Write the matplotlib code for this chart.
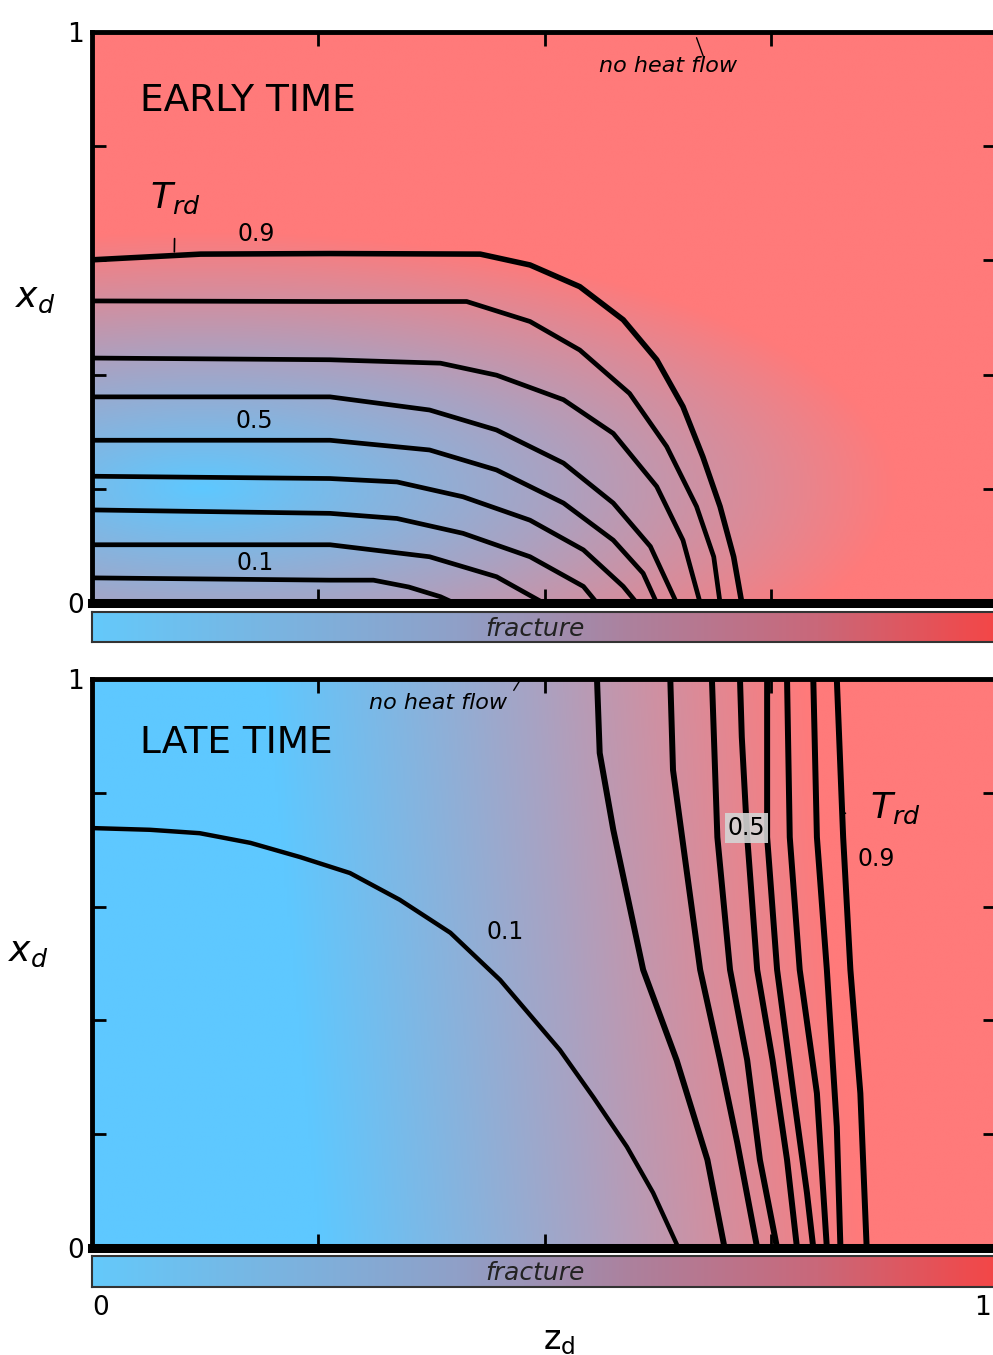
import numpy as np
import matplotlib
matplotlib.use("Agg")
import matplotlib.pyplot as plt
from matplotlib.colors import LinearSegmentedColormap

# contour levels (T_rd) and traced points (z_d, x_d)
levels = [0.1, 0.2, 0.3, 0.4, 0.5, 0.6, 0.7, 0.8, 0.9]

early_z = [
    [0.0, 0.263, 0.311, 0.350, 0.385, 0.400],
    [0.0, 0.263, 0.373, 0.447, 0.499],
    [0.0, 0.263, 0.337, 0.410, 0.484, 0.543, 0.558],
    [0.0, 0.263, 0.337, 0.410, 0.484, 0.543, 0.587, 0.602],
    [0.0, 0.263, 0.373, 0.447, 0.521, 0.576, 0.609, 0.624],
    [0.0, 0.263, 0.373, 0.447, 0.521, 0.576, 0.617, 0.646],
    [0.0, 0.263, 0.385, 0.447, 0.521, 0.576, 0.624, 0.653, 0.672],
    [0.0, 0.263, 0.414, 0.484, 0.539, 0.594, 0.635, 0.668, 0.687, 0.694],
    [0.0, 0.120, 0.263, 0.429, 0.484, 0.539, 0.587, 0.624, 0.653, 0.675, 0.694, 0.709, 0.718],
]
early_x = [
    [0.044, 0.040, 0.040, 0.028, 0.011, 0.0],
    [0.102, 0.102, 0.081, 0.046, 0.0],
    [0.163, 0.157, 0.148, 0.122, 0.081, 0.029, 0.0],
    [0.222, 0.218, 0.212, 0.186, 0.145, 0.093, 0.029, 0.0],
    [0.285, 0.285, 0.268, 0.233, 0.175, 0.110, 0.052, 0.0],
    [0.361, 0.361, 0.338, 0.303, 0.245, 0.175, 0.099, 0.0],
    [0.429, 0.426, 0.420, 0.399, 0.356, 0.297, 0.204, 0.110, 0.0],
    [0.529, 0.528, 0.528, 0.493, 0.443, 0.367, 0.274, 0.169, 0.081, 0.0],
    [0.601, 0.611, 0.612, 0.611, 0.592, 0.554, 0.496, 0.426, 0.344, 0.256, 0.169, 0.081, 0.0],
]

late_z = [
    [0.0, 0.064, 0.119, 0.175, 0.230, 0.285, 0.340, 0.396, 0.451, 0.517, 0.554, 0.591, 0.620, 0.648],
    [0.558, 0.561, 0.576, 0.609, 0.646, 0.680, 0.699],
    [0.639, 0.642, 0.657, 0.672, 0.694, 0.713, 0.735],
    [0.685, 0.691, 0.705, 0.724, 0.738, 0.757],
    [0.716, 0.718, 0.724, 0.735, 0.752, 0.768, 0.779],
    [0.746, 0.746, 0.757, 0.775, 0.790, 0.797],
    [0.768, 0.771, 0.782, 0.801, 0.812],
    [0.797, 0.801, 0.812, 0.823, 0.827],
    [0.823, 0.830, 0.838, 0.849, 0.856],
]
late_x = [
    [0.738, 0.735, 0.729, 0.712, 0.687, 0.659, 0.612, 0.554, 0.471, 0.348, 0.265, 0.178, 0.097, 0.0],
    [1.0, 0.870, 0.735, 0.489, 0.330, 0.155, 0.0],
    [1.0, 0.840, 0.664, 0.489, 0.330, 0.185, 0.0],
    [1.0, 0.722, 0.489, 0.330, 0.155, 0.0],
    [1.0, 0.898, 0.722, 0.489, 0.330, 0.155, 0.0],
    [1.0, 0.722, 0.489, 0.272, 0.097, 0.0],
    [1.0, 0.722, 0.489, 0.272, 0.0],
    [1.0, 0.722, 0.489, 0.213, 0.0],
    [1.0, 0.722, 0.489, 0.272, 0.0],
]

rock_cmap = LinearSegmentedColormap.from_list(
    "rock", [(0, "#5ec8ff"), (0.5, "#a9a2c2"), (1, "#ff7a7a")])
frac_cmap = LinearSegmentedColormap.from_list(
    "frac", [(0, "#64c9fa"), (0.4, "#8fa0c8"), (0.6, "#ad809c"),
             (0.8, "#c9687a"), (1, "#f44646")])

W, H = 993, 1355
fig = plt.figure(figsize=(W / 100, H / 100), dpi=100)


def box(x0, y0, x1, y1):
    # pixel box (top-left origin) -> figure rect
    return [x0 / W, 1 - y1 / H, (x1 - x0) / W, (y1 - y0) / H]


# background shading (decorative)
zz, xx = np.meshgrid(np.linspace(0, 1, 300), np.linspace(0, 1, 300))
early_bg = np.clip(np.hypot((zz - 0.12) / 0.77, (xx - 0.20) / 0.45), 0, 1)
late_bg = np.clip((zz - 0.22 + 0.06 * (xx - 0.5)) / 0.6, 0, 1)


def setup_panel(ax, bg):
    ax.imshow(bg, extent=[0, 1, 0, 1], origin="lower", aspect="auto",
              cmap=rock_cmap, vmin=0, vmax=1, zorder=0)
    ax.set_xlim(0, 1)
    ax.set_ylim(0, 1)
    for s in ["left", "top", "right"]:
        ax.spines[s].set_linewidth(3.5)
    ax.spines["bottom"].set_linewidth(6.5)
    ax.set_xticks([0.25, 0.5, 0.75])
    ax.set_yticks([0, 0.2, 0.4, 0.6, 0.8, 1])
    ax.set_yticklabels(["0", "", "", "", "", "1"])
    ax.tick_params(direction="in", length=10, width=2, top=True, right=True,
                   labelbottom=False, labelsize=19, pad=6)


def fracture_bar(ax):
    ax.imshow(np.linspace(0, 1, 256)[None, :], extent=[0, 1, 0, 1],
              aspect="auto", cmap=frac_cmap)
    ax.set_xlim(0, 1)
    ax.set_ylim(0, 1)
    ax.set_yticks([])
    for s in ax.spines.values():
        s.set_linewidth(1.5)
        s.set_color("#333333")
    ax.text(0.49, 0.45, "fracture", style="italic", fontsize=18,
            ha="center", va="center", color="#222222")


# ---- early time ----
ax1 = fig.add_axes(box(92, 32, 997, 603))
setup_panel(ax1, early_bg)
for i, lev in enumerate(levels):
    ax1.plot(early_z[i], early_x[i], color="k", lw=4.0 if lev == 0.9 else 3.4,
             solid_capstyle="round", solid_joinstyle="round", zorder=2)
ax1.text(0.053, 0.879, "EARLY TIME", fontsize=27, ha="left", va="center")
ax1.text(0.181, 0.646, "0.9", fontsize=17, ha="center", va="center")
ax1.text(0.179, 0.319, "0.5", fontsize=17, ha="center", va="center")
ax1.text(0.180, 0.070, "0.1", fontsize=17, ha="center", va="center")
ax1.annotate(r"$T_{rd}$", xy=(0.091, 0.615), xytext=(0.092, 0.708),
             fontsize=26, ha="center", va="center",
             arrowprops=dict(arrowstyle="-", lw=1.2, shrinkA=14, shrinkB=0))
ax1.text(0.636, 0.940, "no heat flow", fontsize=16, style="italic",
         ha="center", va="center")
ax1.annotate("", xy=(0.668, 0.99), xytext=(0.676, 0.955),
             arrowprops=dict(arrowstyle="-", lw=1.0, shrinkA=0, shrinkB=0))
ax1.set_ylabel(r"$x_d$", fontsize=26, rotation=0, va="center")
ax1.yaxis.set_label_coords(-0.063, 0.534)

bar1 = fig.add_axes(box(92, 612, 997, 642))
fracture_bar(bar1)
bar1.set_xticks([])

# ---- late time ----
ax2 = fig.add_axes(box(92, 679, 997, 1248))
setup_panel(ax2, late_bg)
for i, lev in enumerate(levels):
    ax2.plot(late_z[i], late_x[i], color="k", lw=3.2 if lev == 0.1 else 4.3,
             solid_capstyle="round", solid_joinstyle="round", zorder=2)
ax2.text(0.053, 0.8875, "LATE TIME", fontsize=27, ha="left", va="center")
ax2.text(0.456, 0.555, "0.1", fontsize=17, ha="center", va="center")
ax2.text(0.723, 0.738, "0.5", fontsize=17, ha="center", va="center", zorder=3,
         bbox=dict(boxstyle="square,pad=0.12", fc="#d4d4d4", ec="none", alpha=0.9))
ax2.text(0.866, 0.684, "0.9", fontsize=17, ha="center", va="center")
ax2.annotate(r"$T_{rd}$", xy=(0.832, 0.764), xytext=(0.888, 0.772),
             fontsize=26, ha="center", va="center",
             arrowprops=dict(arrowstyle="-", lw=1.2, shrinkA=16, shrinkB=0))
ax2.text(0.382, 0.958, "no heat flow", fontsize=16, style="italic",
         ha="center", va="center")
ax2.annotate("", xy=(0.473, 0.998), xytext=(0.466, 0.98),
             arrowprops=dict(arrowstyle="-", lw=1.0, shrinkA=0, shrinkB=0))
ax2.set_ylabel(r"$x_d$", fontsize=26, rotation=0, va="center")
ax2.yaxis.set_label_coords(-0.071, 0.52)

bar2 = fig.add_axes(box(92, 1256, 997, 1287))
fracture_bar(bar2)
bar2.set_xticks([0.01, 0.984])
bar2.set_xticklabels(["0", "1"])
bar2.tick_params(length=0, labelsize=19, pad=6)
bar2.set_xlabel(r"$\mathregular{z_d}$", fontsize=24)
bar2.xaxis.set_label_coords(0.516, -1.2)

fig.savefig("out.png", dpi=100)
